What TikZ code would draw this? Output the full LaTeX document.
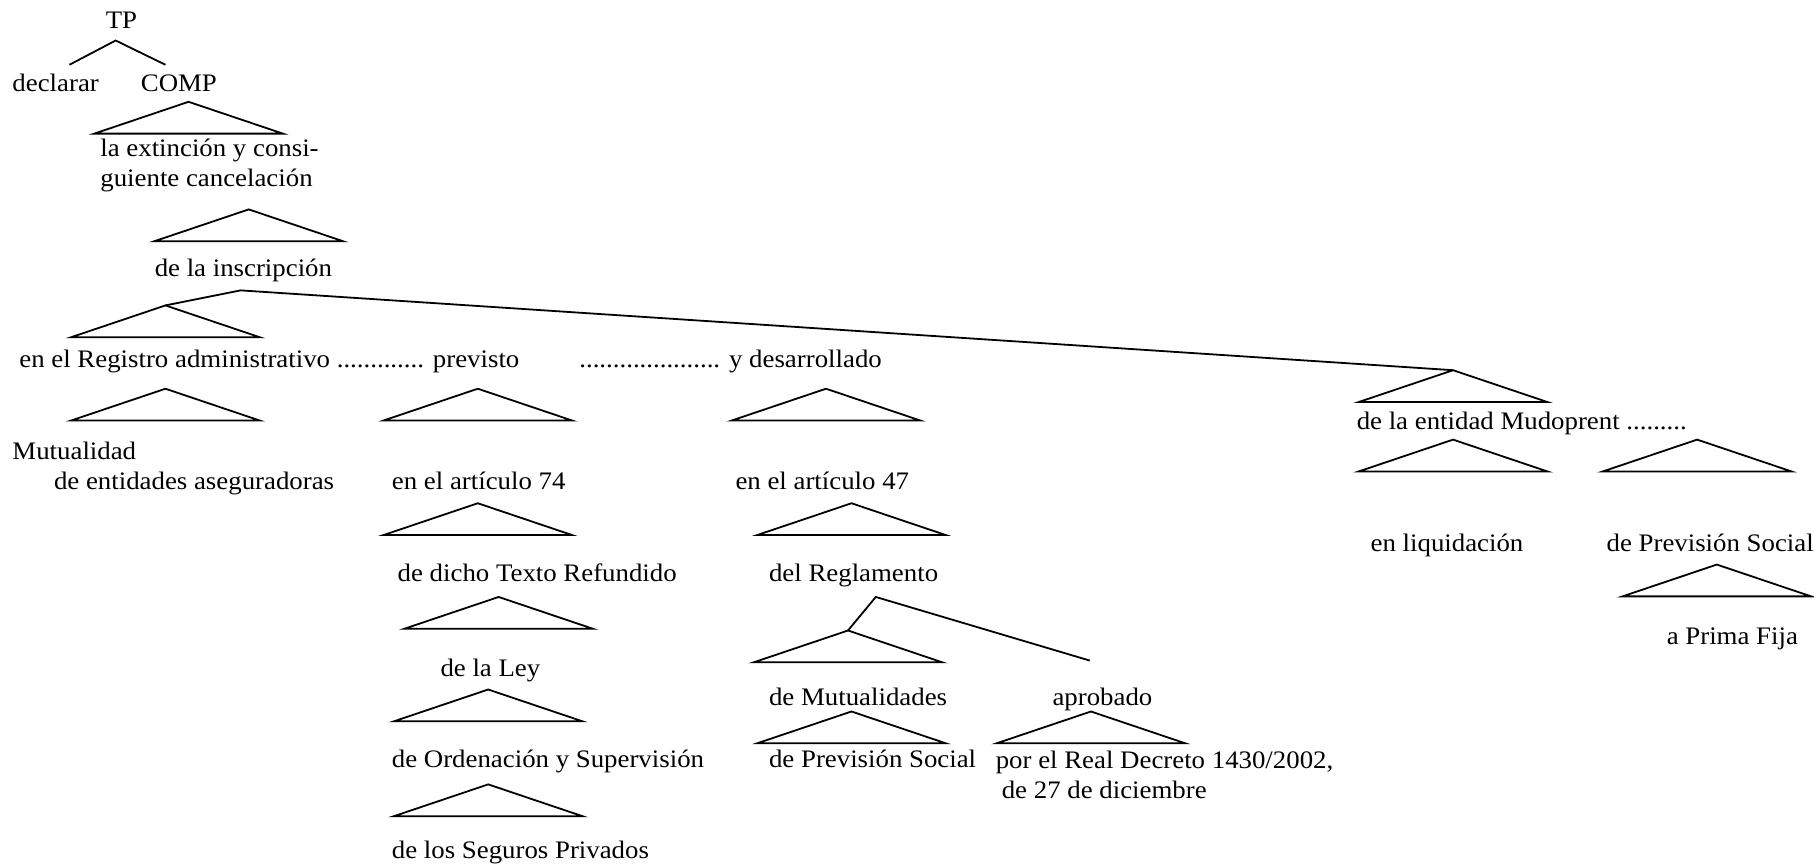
\documentclass[tikz,border=0pt]{standalone}
\usepackage{fontspec}
\setmainfont{Liberation Serif}[FakeStretch=1.065]
\newcommand{\roof}[1]{\draw (#1) -- ++(-81.5,27.5) -- ++(163,0) -- cycle;}
\begin{document}
\begin{tikzpicture}[x=0.5787pt, y=-0.5787pt, line width=0.9pt,
  txt/.style={inner sep=0pt, anchor=base west, font=\fontsize{12.6}{15}\selectfont},
  txt2/.style={txt, anchor=north west, align=left}]
  \useasboundingbox (0,0) rectangle (1568,746);
  % top of the tree
  \node[txt, anchor=base] (tp) at (105,25) {TP};
  \node[txt] (decl) at (10,79) {declarar};
  \node[txt] (comp) at (121,79) {COMP};
  \coordinate (tpa) at (100,35);
  \coordinate (tpl) at (60,56);
  \coordinate (tpr) at (143,56);
  \draw (tpl) -- (tpa) -- (tpr);
  \node[txt2] (ext) at (86,119) {la extinción y consi-\\guiente cancelación};
  \node[txt] (insc) at (133,239) {de la inscripción};
  % first level of modifiers
  \node[txt] (reg) at (16,318) {en el Registro administrativo ............. previsto};
  \node[txt] (desa) at (500,318) {..................... y desarrollado};
  \node[txt] (mudo) at (1172,371) {de la entidad Mudoprent .........};
  \node[txt2] (mutu) at (10,381) {Mutualidad\\\hspace*{20.8pt}de entidades aseguradoras};
  \node[txt] (art74) at (338,423) {en el artículo 74};
  \node[txt] (art47) at (635,423) {en el artículo 47};
  \node[txt] (texto) at (343,503) {de dicho Texto Refundido};
  \node[txt] (regl) at (664,503) {del Reglamento};
  \node[txt] (ley) at (380,585) {de la Ley};
  \node[txt] (mutus) at (664,610) {de Mutualidades};
  \node[txt] (aprob) at (909,610) {aprobado};
  \node[txt] (orden) at (338,663) {de Ordenación y Supervisión};
  \node[txt] (prev1) at (664,663) {de Previsión Social};
  \node[txt2] (rd) at (860,648) {por el Real Decreto 1430/2002,\\\hspace*{3pt}de 27 de diciembre};
  \node[txt] (seg) at (338,742) {de los Seguros Privados};
  \node[txt] (liq) at (1184,477) {en liquidación};
  \node[txt] (prev2) at (1388,477) {de Previsión Social};
  \node[txt] (prima) at (1440,557) {a Prima Fija};
  % roofs
  \coordinate (r0) at (163,88);
  \coordinate (r1) at (215,181);
  \coordinate (r2) at (143,264);
  \coordinate (r3) at (143,336);
  \coordinate (r4) at (413,336);
  \coordinate (r5) at (714,336);
  \coordinate (r6) at (413,435);
  \coordinate (r7) at (736,435);
  \coordinate (r8) at (431,516);
  \coordinate (r9) at (733,545);
  \coordinate (r10) at (422,596);
  \coordinate (r11) at (736,615);
  \coordinate (r12) at (943,615);
  \coordinate (r13) at (422,678);
  \coordinate (r14) at (1256,320);
  \coordinate (r15) at (1256,380);
  \coordinate (r16) at (1467,380);
  \coordinate (r17) at (1484,488);
  \foreach \r in {r0,r1,r2,r3,r4,r5,r6,r7,r8,r9,r10,r11,r12,r13,r14,r15,r16,r17}
    {\roof{\r}}
  % branches
  \coordinate (ia) at (208,251);
  \draw (r2) -- (ia) -- (r14);
  \coordinate (ra) at (757,516);
  \coordinate (apr) at (942,571);
  \draw (r9) -- (ra) -- (apr);
\end{tikzpicture}
\end{document}
